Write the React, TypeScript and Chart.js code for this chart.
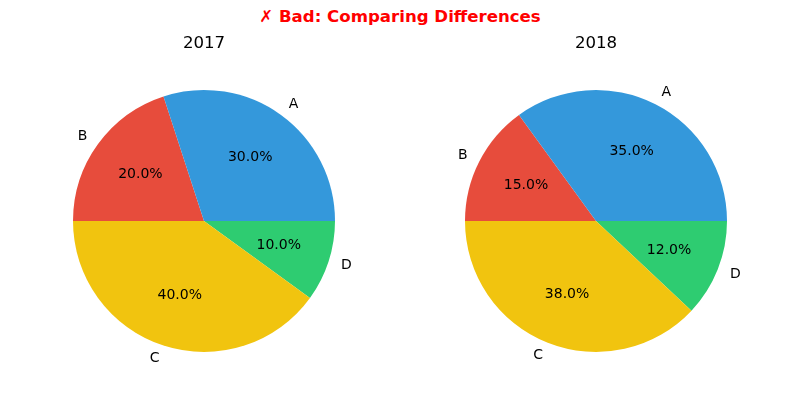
import { useEffect, useRef } from 'react'
import { Chart, registerables, Plugin } from 'chart.js'

Chart.register(...registerables)

const categories = ['A', 'B', 'C', 'D']
const values2017 = [30, 20, 40, 10]
const values2018 = [35, 15, 38, 12]
const colors = ['#3498db', '#e74c3c', '#f1c40f', '#2ecc71']

const FONT = '"DejaVu Sans", sans-serif'

// matplotlib-style labels: names at 1.1r, percentages at 0.6r
const pieLabels: Plugin<'pie'> = {
  id: 'pieLabels',
  afterDatasetsDraw(chart) {
    const ctx = chart.ctx
    const meta = chart.getDatasetMeta(0)
    const labels = chart.data.labels as string[]
    const data = chart.data.datasets[0].data as number[]
    const total = data.reduce((a, b) => a + b, 0)
    ctx.save()
    meta.data.forEach((el: any, i) => {
      const { x, y, startAngle, endAngle, outerRadius } = el.getProps(
        ['x', 'y', 'startAngle', 'endAngle', 'outerRadius'],
        true
      )
      const mid = (startAngle + endAngle) / 2
      const cx = Math.cos(mid)
      const cy = Math.sin(mid)
      ctx.fillStyle = '#000'
      ctx.font = `14px ${FONT}`
      ctx.textBaseline = 'middle'
      ctx.textAlign = 'center'
      ctx.fillText(
        ((data[i] / total) * 100).toFixed(1) + '%',
        x + cx * outerRadius * 0.6,
        y + cy * outerRadius * 0.6
      )
      ctx.textAlign = cx > 0 ? 'left' : 'right'
      ctx.fillText(labels[i], x + cx * outerRadius * 1.1, y + cy * outerRadius * 1.1)
    })
    ctx.restore()
  },
}

function PieChart({ values, title }: { values: number[]; title: string }) {
  const ref = useRef<HTMLCanvasElement>(null)

  useEffect(() => {
    if (!ref.current) return
    // reversed so that clockwise drawing matches a counter-clockwise pie
    const chart = new Chart(ref.current, {
      type: 'pie',
      data: {
        labels: [...categories].reverse(),
        datasets: [
          {
            data: [...values].reverse(),
            backgroundColor: [...colors].reverse(),
            borderWidth: 0,
          },
        ],
      },
      options: {
        animation: false,
        responsive: false,
        rotation: 90,
        layout: { padding: { top: 90, bottom: 48, left: 69, right: 69 } },
        plugins: {
          legend: { display: false },
          tooltip: { enabled: false },
          title: { display: false },
        },
      },
      plugins: [
        pieLabels,
        {
          id: 'subTitle',
          afterDraw(c) {
            const ctx = c.ctx
            ctx.save()
            ctx.font = `16.6px ${FONT}`
            ctx.fillStyle = '#000'
            ctx.textAlign = 'center'
            ctx.textBaseline = 'middle'
            ctx.fillText(title, c.width / 2, 44)
            ctx.restore()
          },
        },
      ],
    })
    return () => chart.destroy()
  }, [values, title])

  return <canvas ref={ref} width={400} height={400} />
}

export default function App() {
  useEffect(() => {
    document.body.style.margin = '0'
  }, [])

  return (
    <div style={{ position: 'relative', width: 800, height: 400, background: '#fff', overflow: 'hidden' }}>
      <div
        style={{
          position: 'absolute',
          top: 6,
          left: 0,
          width: 800,
          textAlign: 'center',
          color: 'red',
          fontFamily: FONT,
          fontWeight: 'bold',
          fontSize: 16.6,
          lineHeight: '22px',
        }}
      >
        ✗ Bad: Comparing Differences
      </div>
      <div style={{ position: 'absolute', left: 4, top: 0 }}>
        <PieChart values={values2017} title="2017" />
      </div>
      <div style={{ position: 'absolute', left: 396, top: 0 }}>
        <PieChart values={values2018} title="2018" />
      </div>
    </div>
  )
}
